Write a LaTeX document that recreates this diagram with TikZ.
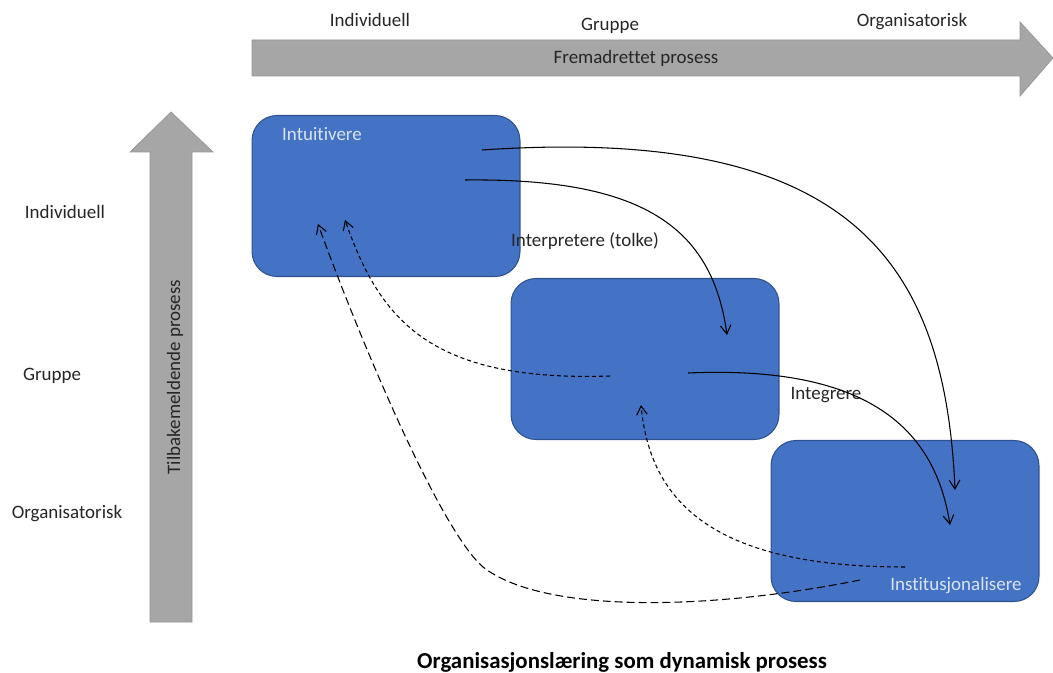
\documentclass[tikz,border=0pt]{standalone}
\usepackage{fontspec}
\setmainfont{Carlito}[Ligatures=NoCommon]
\usetikzlibrary{arrows.meta,positioning}
\definecolor{boxblue}{HTML}{4472C4}
\definecolor{boxline}{HTML}{2F528F}
\definecolor{pilgray}{HTML}{A6A6A6}
\definecolor{lightlab}{HTML}{DAE3F3}

\begin{document}
\begin{tikzpicture}[x=0.02cm,y=-0.02cm,font=\fontsize{10.8}{13}\selectfont,
  stage/.style={draw=boxline,line width=0.6pt,fill=boxblue,rounded corners=0.5cm,minimum width=5.36cm,minimum height=3.22cm},
  flow/.style={line width=0.6pt,-{Straight Barb[length=5pt,width=6pt]}},
  backshort/.style={flow,dash pattern=on 2.3pt off 1.7pt},
  backlong/.style={flow,dash pattern=on 4.5pt off 2.3pt},
  lab/.style={text=black!85}]
\useasboundingbox (0,0) rectangle (1053,672);
\filldraw[fill=pilgray,draw=pilgray!90!black,line width=0.4pt]
(252,40)--(1020,40)--(1020,22)--(1053,58)--(1020,96)--(1020,76)--(252,76)--cycle;
\filldraw[fill=pilgray,draw=pilgray!90!black,line width=0.4pt]
(150,622)--(150,152)--(130,152)--(171,112)--(213,152)--(192,152)--(192,622)--cycle;
\node[lab](fram)at(636,58){Fremadrettet prosess};
\node[lab,rotate=90](tilb)at(175,377){Tilbakemeldende prosess};
\node[lab](tind)at(370,20){Individuell};
\node[lab](tgru)at(610,26){Gruppe};
\node[lab](torg)at(912,22){Organisatorisk};
\node[lab](vind)at(65,212){Individuell};
\node[lab](vgru)at(52,376){Gruppe};
\node[lab](vorg)at(67,514){Organisatorisk};
\node[stage](intu)at(386,196){};
\node[stage](inte)at(645,359){};
\node[stage](inst)at(905,521){};
\node[text=lightlab](intul)at(322,134){Intuitivere};
\node[text=lightlab](instl)at(956,586){Institusjonalisere};
\node[lab](tolk)at(585,241){Interpretere (tolke)};
\node[lab](intg)at(826,395){Integrere};
\node[font=\fontsize{13}{15}\selectfont\bfseries,anchor=base](titl)at(622,668){Organisasjonslæring som dynamisk prosess};
\coordinate(a1)at(482,150);
\coordinate(b1)at(955,490);
\coordinate(a2)at(465,180);
\coordinate(b2)at(727,335);
\coordinate(a3)at(688,373);
\coordinate(b3)at(950,525);
\coordinate(a4)at(610,376);
\coordinate(b4)at(345,220);
\coordinate(a5)at(905,567);
\coordinate(b5)at(641,405);
\coordinate(a6)at(860,580);
\coordinate(m6)at(483,567);
\coordinate(b6)at(318,224);
\draw[flow](a1)..controls(850,125)and(945,260)..(b1);
\draw[flow](a2)..controls(640,178)and(712,225)..(b2);
\draw[flow](a3)..controls(870,365)and(935,430)..(b3);
\draw[backshort](a4)..controls(430,382)and(380,320)..(b4);
\draw[backshort](a5)..controls(710,567)and(650,500)..(b5);
\draw[backlong](a6)..controls(700,612)and(540,612)..(m6)..controls(440,530)and(360,340)..(b6);
\end{tikzpicture}
\end{document}
